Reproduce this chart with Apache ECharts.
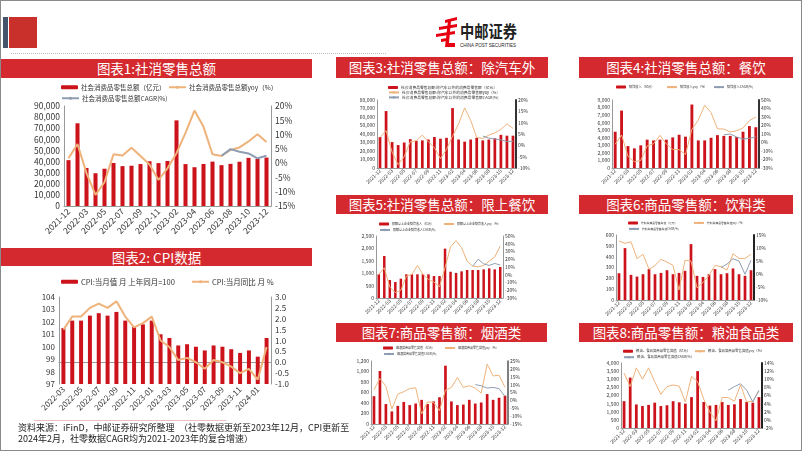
<!DOCTYPE html>
<html>
<head>
<meta charset="utf-8">
<script src="https://cdn.jsdelivr.net/npm/echarts@6/dist/echarts.min.js"></script>
<style>
  html, body { margin: 0; padding: 0; background: #fff; }
  #page { position: relative; width: 802px; height: 451px; box-sizing: border-box; border: 1px solid #8a8a8a; overflow: hidden; font-family: "Noto Sans CJK SC", sans-serif; }
  .tbar { position: absolute; background: #d42a2f; color: #fff; font-size: 13.5px; text-align: center; white-space: nowrap; }
  .box { position: absolute; }
</style>
</head>
<body>
<div id="page">
  <!-- header -->
  <div style="position:absolute;left:2px;top:16px;width:5px;height:31px;background:#44546a"></div>
  <div style="position:absolute;left:8px;top:16px;width:28px;height:31px;background:#c9302c"></div>
  <div style="position:absolute;left:10px;top:52px;width:375px;border-top:1px dotted #bbb"></div>
  <svg style="position:absolute;left:434px;top:15px" width="84" height="36">
    <polygon points="10,4 22,1 22,4 10,7" fill="#e60012"/>
    <polygon points="4,11 22,8 22,11 4,14" fill="#e60012"/>
    <polygon points="1,18 20,15 20,18 1,21" fill="#e60012"/>
    <polygon points="13,5 16,5 14,27 20,27 20,31 10,31" fill="#e60012"/>
    <polygon points="6,23 12,22 12,25 6,26" fill="#e60012"/>
    <text x="25" y="22" font-size="17" font-weight="bold" fill="#222" textLength="57" lengthAdjust="spacingAndGlyphs" font-family="Noto Sans CJK SC">中邮证券</text>
    <text x="25" y="31" font-size="6" fill="#222" textLength="56" lengthAdjust="spacingAndGlyphs" font-family="Liberation Sans">CHINA POST SECURITIES</text>
  </svg>

  <!-- title bars -->
  <div class="tbar" style="left:0;top:58px;width:311px;height:19px;line-height:19px">图表1:社消零售总额</div>
  <div class="tbar" style="left:0;top:247px;width:311px;height:18px;line-height:18px">图表2: CPI数据</div>
  <div class="tbar" style="left:335px;top:56px;width:212px;height:21px;line-height:21px">图表3:社消零售总额：除汽车外</div>
  <div class="tbar" style="left:578px;top:56px;width:214px;height:21px;line-height:21px">图表4:社消零售总额：餐饮</div>
  <div class="tbar" style="left:335px;top:194px;width:212px;height:19px;line-height:19px">图表5:社消零售总额：限上餐饮</div>
  <div class="tbar" style="left:578px;top:194px;width:214px;height:19px;line-height:19px">图表6:商品零售额：饮料类</div>
  <div class="tbar" style="left:335px;top:322px;width:211px;height:19px;line-height:19px">图表7:商品零售额：烟酒类</div>
  <div class="tbar" style="left:578px;top:322px;width:214px;height:19px;line-height:19px">图表8:商品零售额：粮油食品类</div>

  <!-- charts -->
  <div id="c1" class="box" style="left:0;top:78px;width:310px;height:165px"></div>
  <div id="c2" class="box" style="left:0;top:266px;width:310px;height:156px"></div>
  <div id="c3" class="box" style="left:335px;top:78px;width:225px;height:112px"></div>
  <div id="c4" class="box" style="left:565px;top:78px;width:236px;height:112px"></div>
  <div id="c5" class="box" style="left:335px;top:213px;width:225px;height:105px"></div>
  <div id="c6" class="box" style="left:565px;top:213px;width:236px;height:105px"></div>
  <div id="c7" class="box" style="left:335px;top:341px;width:225px;height:108px"></div>
  <div id="c8" class="box" style="left:565px;top:341px;width:236px;height:108px"></div>

  <!-- footer -->
  <div style="position:absolute;left:33px;top:419px;width:192px;border-top:1px solid #f0c0c0"></div>
  <div style="position:absolute;left:17px;top:421px;font-size:9px;line-height:11px;color:#222;white-space:nowrap">资料来源：iFinD，中邮证券研究所整理　（社零数据更新至2023年12月，CPI更新至<br>2024年2月，社零数据CAGR均为2021-2023年的复合增速）</div>
</div>

<script>
// 月份（1-2月合并）
const months = ['2021-12', '2022-02', '2022-03', '2022-04', '2022-05', '2022-06', '2022-07', '2022-08', '2022-09', '2022-10', '2022-11', '2022-12',
  '2023-02', '2023-03', '2023-04', '2023-05', '2023-06', '2023-07', '2023-08', '2023-09', '2023-10', '2023-11', '2023-12'];
const cpiMonths = ['2022-03', '2022-04', '2022-05', '2022-06', '2022-07', '2022-08', '2022-09', '2022-10', '2022-11', '2022-12',
  '2023-01', '2023-02', '2023-03', '2023-04', '2023-05', '2023-06', '2023-07', '2023-08', '2023-09', '2023-10', '2023-11', '2023-12', '2024-01', '2024-02'];

// 图表1 社消零售总额
const retailVal = [41269, 74426, 34233, 29483, 33547, 38742, 35870, 36258, 37745, 40271, 38615, 40542, 77067, 37715, 34910, 37803, 39951, 36761, 37933, 39826, 43333, 42505, 43550];
const retailYoy = [1.7, 6.7, -3.5, -11.1, -6.7, 3.1, 2.7, 5.4, 2.5, -0.5, -5.9, -1.8, 3.5, 10.6, 18.4, 12.7, 3.1, 2.5, 4.6, 5.5, 7.6, 10.1, 7.4];
const retailCagr = [null, null, null, null, null, null, null, null, null, null, null, null, null, null, null, null, null, 2.6, 4.9, 4.0, 3.4, 1.7, 2.6];

// 图表2 CPI
const cpiVal = [101.5, 102.1, 102.1, 102.5, 102.7, 102.5, 102.8, 102.1, 101.6, 101.8, 102.1, 101.0, 100.7, 100.1, 100.2, 100.0, 99.7, 100.1, 100.0, 99.8, 99.5, 99.7, 99.2, 100.7];
const cpiYoy = [1.5, 2.1, 2.1, 2.5, 2.7, 2.5, 2.8, 2.1, 1.6, 1.8, 2.1, 1.0, 0.7, 0.1, 0.2, 0.0, -0.3, 0.1, 0.0, -0.2, -0.5, -0.3, -0.8, 0.7];

// 图表3 除汽车外
const exAutoVal = [36500, 67000, 30500, 27000, 30000, 34000, 32000, 32500, 33500, 36500, 34500, 35500, 70500, 33500, 31000, 33500, 35500, 32500, 33500, 35000, 39000, 38000, 38000];
const exAutoYoy = [3.4, 6.5, -3.0, -8.5, -5.0, 1.6, 2.0, 4.5, 1.5, -1.0, -5.9, -1.8, 4.0, 9.5, 16.5, 11.0, 3.5, 3.0, 4.5, 5.5, 7.0, 9.5, 7.5];
const exAutoCagr = [null, null, null, null, null, null, null, null, null, null, null, null, null, null, null, null, null, 4.1, 3.2, 2.8, 2.4, 1.7, 1.8];

// 图表4 餐饮
const cateringVal = [4800, 7600, 2900, 2600, 3000, 3750, 3650, 3750, 3750, 4050, 4400, 4150, 8400, 3650, 3650, 4000, 4350, 4250, 4250, 4100, 4800, 5550, 5400];
const cateringYoy = [-2.0, 8.9, -16.4, -22.7, -21.1, -4.0, -1.5, 8.4, -1.7, -8.1, -8.4, -14.1, 15.4, 26.3, 43.8, 35.1, 16.1, 15.8, 12.4, 13.8, 17.1, 25.8, 30.0];
const cateringCagr = [null, null, null, null, null, null, null, null, null, null, null, null, null, null, null, null, null, 9.0, 10.0, 6.5, 4.0, 5.0, 6.5];

// 图表5 限上餐饮
const ltdCateringVal = [955, 1695, 725, 645, 780, 955, 955, 955, 955, 955, 885, 885, 1990, 1060, 1010, 1075, 1130, 1130, 1130, 1155, 1195, 1155, 1250];
const ltdCateringYoy = [0.4, 9.0, -16.0, -23.0, -20.0, -1.7, 0.4, 12.0, 0.4, -6.0, -9.5, -15.5, 9.0, 36.0, 44.0, 35.0, 17.6, 11.2, 10.3, 12.0, 17.6, 23.0, 37.0];
const ltdCateringCagr = [null, null, null, null, null, null, null, null, null, null, null, null, null, null, null, null, null, 11.0, 20.0, 14.0, 12.0, 14.6, 12.5];

// 图表6 饮料类
const beverageVal = [247, 479, 232, 216, 238, 285, 238, 250, 275, 238, 250, 269, 516, 223, 213, 238, 285, 238, 247, 291, 238, 223, 275];
const beverageYoy = [12.7, 11.8, 12.4, 5.9, 7.6, 1.8, 3.3, 5.6, 4.6, 3.3, -6.2, 5.3, 5.0, -5.3, -3.3, -0.5, 3.3, 2.8, 1.5, 7.8, 6.0, 6.0, 7.6];
const beverageCagr = [null, null, null, null, null, null, null, null, null, null, null, null, null, null, null, null, null, 2.5, 3.8, 5.9, 5.0, -0.1, 5.3];

// 图表7 烟酒类
const tobaccoVal = [530, 1010, 380, 240, 345, 420, 360, 390, 460, 380, 430, 510, 1110, 430, 360, 370, 460, 390, 410, 570, 460, 500, 540];
const tobaccoYoy = [6.7, 13.9, 9.0, -5.5, 4.0, 5.5, 7.5, 8.0, -8.6, -1.0, -1.3, -6.5, 6.5, 8.2, 14.5, 8.2, 9.3, 7.8, 4.6, 23.0, 15.5, 16.0, 8.2];
const tobaccoCagr = [null, null, null, null, null, null, null, null, null, null, null, null, null, null, null, null, null, 10.0, 9.3, 7.8, 8.2, 7.5, 2.5];

// 图表8 粮油食品类
const grainVal = [1650, 3100, 1450, 1350, 1420, 1560, 1350, 1400, 1650, 1580, 1500, 1900, 3500, 1600, 1380, 1420, 1600, 1420, 1460, 1780, 1600, 1560, 1900];
const grainYoy = [11.5, 8.2, 12.8, 10.0, 12.8, 9.4, 6.3, 8.2, 8.6, 8.3, 4.4, 10.7, 9.4, 5.1, 1.9, -0.2, 5.5, 5.5, 4.6, 8.6, 4.4, 4.6, 7.1];
const grainCagr = [null, null, null, null, null, null, null, null, null, null, null, null, null, null, null, null, null, 7.3, 8.2, 8.9, 7.3, 4.4, 7.3];

const FONT = '"Noto Sans CJK SC", "Liberation Sans", sans-serif';
const RED = '#cc121b', ORANGE = '#eeb27a', GREY = '#8e9db2';

function drawCombo(id, c) {
  let chart = echarts.init(document.getElementById(id));
  let series = [
    { name: c.names[0], type: 'bar', data: c.bar, barWidth: '45%', itemStyle: { color: RED } },
    { name: c.names[1], type: 'line', yAxisIndex: 1, data: c.yoy, symbol: 'none',
      lineStyle: { color: ORANGE, width: c.lw }, itemStyle: { color: ORANGE } }
  ];
  if (c.cagr) {
    series.push({ name: c.names[2], type: 'line', yAxisIndex: 1, data: c.cagr, symbol: 'none',
      lineStyle: { color: GREY, width: c.lw }, itemStyle: { color: GREY } });
  }
  chart.setOption({
    animation: false,
    textStyle: { fontFamily: FONT },
    legend: c.legend.map(function (l) {
      return {
        data: [c.names[l[0]]], left: l[1], top: l[2], padding: 0, itemGap: 0,
        itemWidth: c.iw, itemHeight: c.ih, selectedMode: false,
        textStyle: { fontSize: c.lf, color: '#333', padding: [0, 0, 0, -2] }
      };
    }),
    grid: Object.assign({ outerBoundsMode: 'none', containLabel: false }, c.grid),
    xAxis: {
      type: 'category', data: c.cats,
      axisLine: { lineStyle: { color: '#999' } },
      axisTick: { show: false },
      axisLabel: { interval: 1, rotate: 45, fontSize: c.af, color: '#333', margin: c.am }
    },
    yAxis: [
      {
        type: 'value', min: c.left[0], max: c.left[1], interval: c.left[2],
        splitLine: { show: false },
        axisLine: { show: true, lineStyle: { color: '#999' } },
        axisTick: { show: false },
        axisLabel: { fontSize: c.af, color: '#333', margin: c.am, formatter: c.leftFmt || function (v) { return v.toLocaleString('en-US'); } }
      },
      {
        type: 'value', position: 'right', min: c.right[0], max: c.right[1], interval: c.right[2],
        splitLine: { show: false },
        axisLine: { show: true, lineStyle: { color: c.rc || '#999', width: c.rw || 1 } },
        axisTick: { show: false },
        axisLabel: { fontSize: c.af, color: '#333', margin: c.am, formatter: c.rightFmt || function (v) { return v + '%'; } }
      }
    ],
    series: series
  });
}

// 图表1
drawCombo('c1', {
  cats: months, bar: retailVal, yoy: retailYoy, cagr: retailCagr,
  names: ['社会消费品零售总额（亿元）', '社会消费品零售总额yoy（%）', '社会消费品零售总额CAGR(%)'],
  legend: [[0, 60, 5], [1, 167, 5], [2, 60, 16]],
  grid: { left: 63, top: 27, width: 207, height: 100 },
  left: [0, 90000, 10000], right: [-15, 20, 5],
  lw: 2, iw: 17, ih: 4, lf: 6.5, af: 8.5, am: 4
});

// 图表2
drawCombo('c2', {
  cats: cpiMonths, bar: cpiVal, yoy: cpiYoy,
  names: ['CPI:当月值 月 上年同月=100', 'CPI:当月同比 月 %'],
  legend: [[0, 60, 11], [1, 190, 11]],
  grid: { left: 58, top: 30, width: 212, height: 87 },
  left: [97, 104, 1], right: [-1, 3, 0.5],
  leftFmt: function (v) { return v; }, rightFmt: function (v) { return v.toFixed(1); },
  lw: 2, iw: 17, ih: 4, lf: 7.5, af: 8, am: 4
});

// 图表3
drawCombo('c3', {
  cats: months, bar: exAutoVal, yoy: exAutoYoy, cagr: exAutoCagr,
  names: ['社会消费品零售总额:除汽车以外的消费品零售额（亿元）', '社会消费品零售总额:除汽车以外的消费品零售额yoy（%）', '社会消费品零售总额:除汽车以外的消费品零售额CAGR(%)'],
  legend: [[0, 52, 6.5], [1, 52, 11.5], [2, 52, 16.5]],
  grid: { left: 41, top: 21, width: 139, height: 68 },
  left: [0, 80000, 10000], right: [-10, 20, 5],
  rc: '#333', rw: 2,
  lw: 1, iw: 10, ih: 3, lf: 3.8, af: 5, am: 2
});

// 图表4
drawCombo('c4', {
  cats: months, bar: cateringVal, yoy: cateringYoy, cagr: cateringCagr,
  names: ['餐饮收入（亿元）', '餐饮收入yoy（%）', '餐饮收入CAGR(%)'],
  legend: [[0, 50, 6.5], [1, 100, 6.5], [2, 147, 6.5]],
  grid: { left: 46, top: 21, width: 147, height: 68 },
  left: [0, 9000, 1000], right: [-30, 50, 10],
  rc: '#333', rw: 2,
  lw: 1, iw: 10, ih: 3, lf: 3.2, af: 5, am: 2
});

// 图表5
drawCombo('c5', {
  cats: months, bar: ltdCateringVal, yoy: ltdCateringYoy, cagr: ltdCateringCagr,
  names: ['限额以上企业餐饮收入（亿元）', '限额以上企业餐饮收入yoy（%）', '限额以上企业餐饮收入CAGR(%)'],
  legend: [[0, 43, 8.5], [1, 107, 8.5], [2, 43, 14.5]],
  grid: { left: 40, top: 22, width: 127, height: 62 },
  left: [0, 2500, 500], right: [-30, 50, 10],
  lw: 1, iw: 10, ih: 3, lf: 3, af: 5, am: 2
});

// 图表6
drawCombo('c6', {
  cats: months, bar: beverageVal, yoy: beverageYoy, cagr: beverageCagr,
  names: ['饮料类商品零售类值（亿元）', '饮料类商品零售类值yoy（%）', '饮料类商品零售类值CAGR(%)'],
  legend: [[0, 62, 7.5], [1, 127, 7.5], [2, 62, 13.5]],
  grid: { left: 50, top: 21, width: 138, height: 65 },
  left: [0, 600, 100], right: [-10, 15, 5],
  rc: '#222', rw: 2,
  lw: 1, iw: 10, ih: 3, lf: 2.8, af: 5, am: 2
});

// 图表7
drawCombo('c7', {
  cats: months, bar: tobaccoVal, yoy: tobaccoYoy, cagr: tobaccoCagr,
  names: ['烟酒类商品零售类值（亿元）', '烟酒类商品零售类值yoy（%）', '烟酒类商品零售类值CAGR(%)'],
  legend: [[0, 47, 4.5], [1, 108, 4.5], [2, 47, 10.5]],
  grid: { left: 35, top: 19, width: 137, height: 63 },
  left: [0, 1200, 200], right: [-15, 25, 5],
  rc: '#555', rw: 1.5,
  lw: 1, iw: 10, ih: 3, lf: 3, af: 5, am: 2
});

// 图表8
drawCombo('c8', {
  cats: months, bar: grainVal, yoy: grainYoy, cagr: grainCagr,
  names: ['粮油、食品类商品零售类值（亿元）', '粮油、食品类商品零售类值yoy（%）', '粮油、食品类商品零售类值CAGR(%)'],
  legend: [[0, 57, 7.5], [1, 128, 7.5], [2, 57, 13.5]],
  grid: { left: 55, top: 21, width: 141, height: 65 },
  left: [0, 4000, 500], right: [-2, 14, 2],
  rc: '#222', rw: 2,
  lw: 1, iw: 10, ih: 3, lf: 3.4, af: 5, am: 2
});
</script>
</body>
</html>
